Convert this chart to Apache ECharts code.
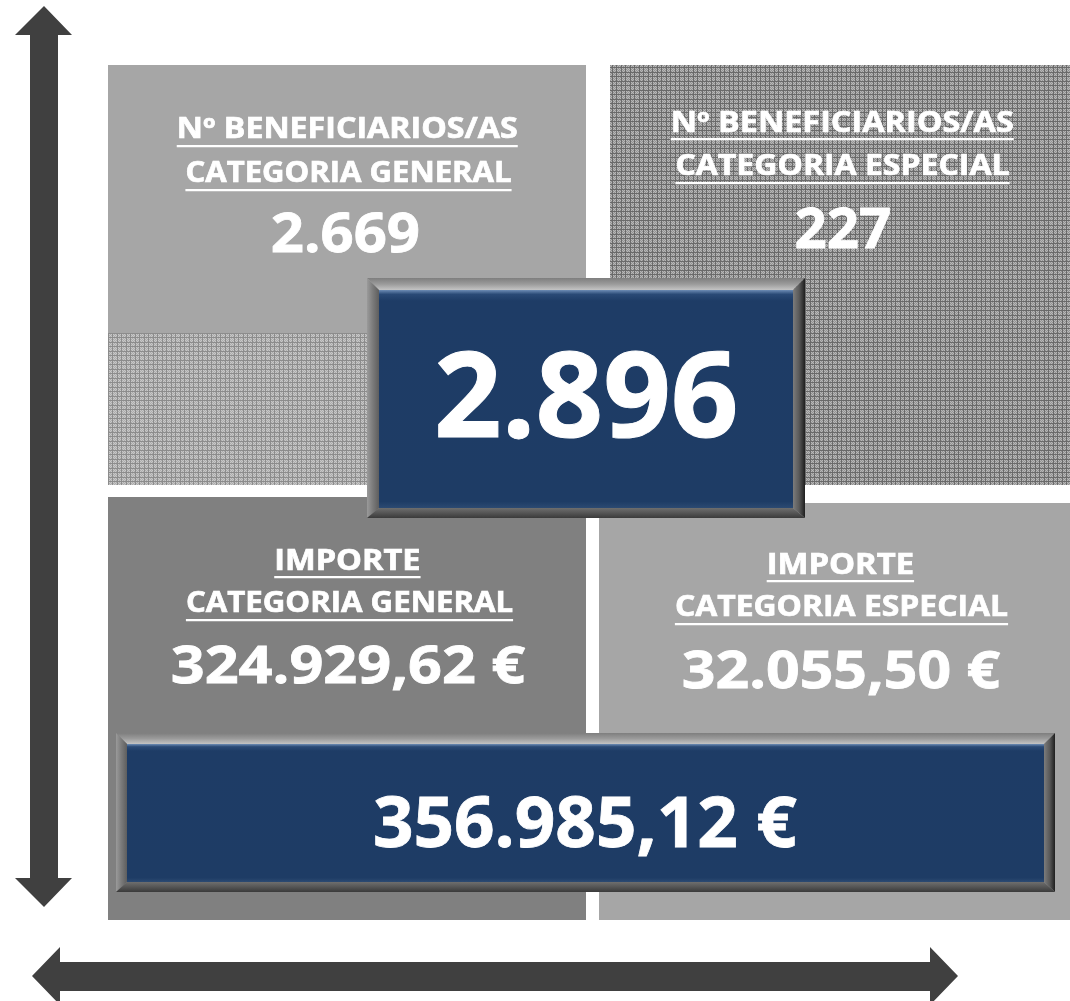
<!DOCTYPE html>
<html><head><meta charset="utf-8">
<script src="https://cdn.jsdelivr.net/npm/echarts@6/dist/echarts.min.js"></script>
<style>html,body{margin:0;padding:0;background:#fff}#c{width:1070px;height:1001px}</style>
</head><body><div id="c"></div>
<script>
// ---- data ----
const countTitles = [['Nº BENEFICIARIOS/AS', 'CATEGORIA GENERAL'], ['Nº BENEFICIARIOS/AS', 'CATEGORIA ESPECIAL']];
const countValues = [2669, 227];
const countTotal = 2896;
const amountTitles = [['IMPORTE', 'CATEGORIA GENERAL'], ['IMPORTE', 'CATEGORIA ESPECIAL']];
const amountValues = [324929.62, 32055.50];
const amountTotal = 356985.12;

function fmtInt(n) { return String(Math.round(n)).replace(/\B(?=(\d{3})+(?!\d))/g, '.'); }
function fmtEur(n) { const p = n.toFixed(2).split('.'); return fmtInt(+p[0]) + ',' + p[1] + ' €'; }

// ---- text helpers ----
const FAMILY = '"Open Sans"';
const mctx = document.createElement('canvas').getContext('2d');
function capRatio() {
  mctx.font = 'bold 100px ' + FAMILY; mctx.textBaseline = 'alphabetic'; mctx.textAlign = 'left';
  return mctx.measureText('H').actualBoundingBoxAscent / 100;
}
function textEl(str, cx, baseline, capH, inkW, strokeW) {
  const fs = capH / capRatio();
  const font = 'bold ' + fs.toFixed(2) + 'px ' + FAMILY;
  mctx.font = font; mctx.textBaseline = 'alphabetic'; mctx.textAlign = 'center';
  const m = mctx.measureText(str);
  const ink = m.actualBoundingBoxLeft + m.actualBoundingBoxRight;
  const sx = inkW ? inkW / ink : 1;
  const inkOff = (m.actualBoundingBoxRight - m.actualBoundingBoxLeft) / 2;
  mctx.textBaseline = 'middle';
  const baseOff = mctx.measureText('H').actualBoundingBoxDescent;
  mctx.textBaseline = 'alphabetic'; mctx.textAlign = 'left';
  const ax = cx - inkOff * sx;
  const style = { text: str, fill: '#ffffff', font: font, textAlign: 'center', verticalAlign: 'middle', textVerticalAlign: 'middle' };
  if (strokeW) { style.stroke = '#ffffff'; style.lineWidth = strokeW; }
  return {
    ax: ax, advW: m.width * sx,
    el: { type: 'text', x: ax, y: baseline - baseOff, scaleX: sx, z: 20, style: style }
  };
}
function underlined(str, cx, baseline, capH, inkW, uy) {
  const t = textEl(str, cx, baseline, capH, inkW, 0.7);
  return [t.el, { type: 'rect', z: 20, shape: { x: t.ax - t.advW / 2, y: uy, width: t.advW, height: 2.2 }, style: { fill: '#ffffff' } }];
}

// ---- texture ----
function makePattern(base, light, dark) {
  const n = 9;
  const c = document.createElement('canvas'); c.width = n; c.height = n;
  const g = c.getContext('2d');
  g.fillStyle = base; g.fillRect(0, 0, n, n);
  g.fillStyle = light;
  for (let y = 0; y < n; y++) for (let x = 0; x < n; x++) if ((x + y) % 2 === 0) g.fillRect(x, y, 1, 1);
  g.fillStyle = dark;
  g.fillRect(0, 0, n, 1); g.fillRect(0, 0, 1, n);
  g.fillRect(0, 4, n, 1); g.fillRect(4, 0, 1, n);
  return c;
}
const patDark = { image: makePattern('#939393', '#b8b8b8', '#6a6a6a'), repeat: 'repeat' };
const patLight = { image: makePattern('#acacac', '#c8c8c8', '#8c8c8c'), repeat: 'repeat' };

function lin(vertical, stops) {
  return { type: 'linear', x: 0, y: 0, x2: vertical ? 0 : 1, y2: vertical ? 1 : 0,
    colorStops: stops.map((c, i) => ({ offset: i / (stops.length - 1), color: c })) };
}
function poly(pts, fill) { return { type: 'polygon', z: 10, shape: { points: pts }, style: { fill: fill } }; }
function bevelBox(o, i) {
  return [
    poly([[o[0], o[1]], [o[2], o[1]], [i[2], i[1]], [i[0], i[1]]], lin(true, ['#7e7e7e', '#9a9a9a', '#c4c4c4'])),
    poly([[o[0], o[1]], [i[0], i[1]], [i[0], i[3]], [o[0], o[3]]], lin(false, ['#9a9a9a', '#7a7a7a', '#5e5e5e'])),
    poly([[o[2], o[1]], [o[2], o[3]], [i[2], i[3]], [i[2], i[1]]], lin(false, ['#7c7c7c', '#5a5a5a', '#1e1e1e'])),
    poly([[o[0], o[3]], [i[0], i[3]], [i[2], i[3]], [o[2], o[3]]], lin(true, ['#6e6e6e', '#555555', '#3a3a3a'])),
    { type: 'rect', z: 11, shape: { x: i[0], y: i[1], width: i[2] - i[0], height: i[3] - i[1] },
      style: { fill: { type: 'linear', x: 0, y: 0, x2: 0, y2: 1, colorStops: [
        { offset: 0, color: '#6d8cb4' }, { offset: 0.02, color: '#2a4a76' }, { offset: 0.05, color: '#1e3c66' },
        { offset: 0.97, color: '#1e3c65' }, { offset: 1, color: '#2c4a72' }] } } }
  ];
}

const els = [];
// arrows
const AR = '#404040';
els.push(poly([[44, 6], [72, 35], [58, 35], [58, 878], [72, 878], [44, 907], [15, 878], [30, 878], [30, 35], [15, 35]], AR));
els.push(poly([[32, 976], [60, 947], [60, 962], [930, 962], [930, 947], [958, 976], [930, 1005], [930, 991], [60, 991], [60, 1005]], AR));

// panels
els.push({ type: 'rect', z: 1, shape: { x: 108, y: 65, width: 478, height: 268 }, style: { fill: '#a6a6a6' } });
els.push({ type: 'rect', z: 1, shape: { x: 108, y: 333, width: 478, height: 152 }, style: { fill: patLight } });
els.push({ type: 'rect', z: 1, shape: { x: 610, y: 65, width: 460, height: 420 }, style: { fill: patDark } });
els.push({ type: 'rect', z: 1, shape: { x: 108, y: 497, width: 478, height: 423 }, style: { fill: '#808080' } });
els.push({ type: 'rect', z: 1, shape: { x: 599, y: 503, width: 471, height: 417 }, style: { fill: '#a6a6a6' } });

// beneficiaries panels
els.push(...underlined(countTitles[0][0], 348, 138, 20.5, 338, 145));
els.push(...underlined(countTitles[0][1], 349, 182, 20.5, 325, 189));
els.push(textEl(fmtInt(countValues[0]), 346, 252, 39, 146, 0.8).el);
els.push(...underlined(countTitles[1][0], 843, 132, 20.5, 340, 138));
els.push(...underlined(countTitles[1][1], 843, 175, 20.5, 333, 182));
els.push(textEl(fmtInt(countValues[1]), 843, 248, 40, 93, 0.8).el);

// amount panels
els.push(...underlined(amountTitles[0][0], 348, 570, 20.5, 143, 576));
els.push(...underlined(amountTitles[0][1], 350, 612, 20.5, 326, 619));
els.push(textEl(fmtEur(amountValues[0]), 349, 683, 38, 352, 0.8).el);
els.push(...underlined(amountTitles[1][0], 841, 574, 20.5, 144, 580));
els.push(...underlined(amountTitles[1][1], 842, 616, 20.5, 332, 623));
els.push(textEl(fmtEur(amountValues[1]), 842, 688, 38, 316, 0.8).el);

// totals
els.push(...bevelBox([367, 278, 805, 518], [379, 290, 793, 508]));
els.push(textEl(fmtInt(countTotal), 586.5, 437, 85, 297, 1).el);
els.push(...bevelBox([116, 733, 1055, 892], [127, 744, 1044, 882]));
els.push(textEl(fmtEur(amountTotal), 586, 847, 50, 422, 0.8).el);

const chart = echarts.init(document.getElementById('c'), null, { renderer: 'canvas' });
chart.setOption({ backgroundColor: '#ffffff', animation: false, graphic: { elements: els } });
</script>
</body></html>
